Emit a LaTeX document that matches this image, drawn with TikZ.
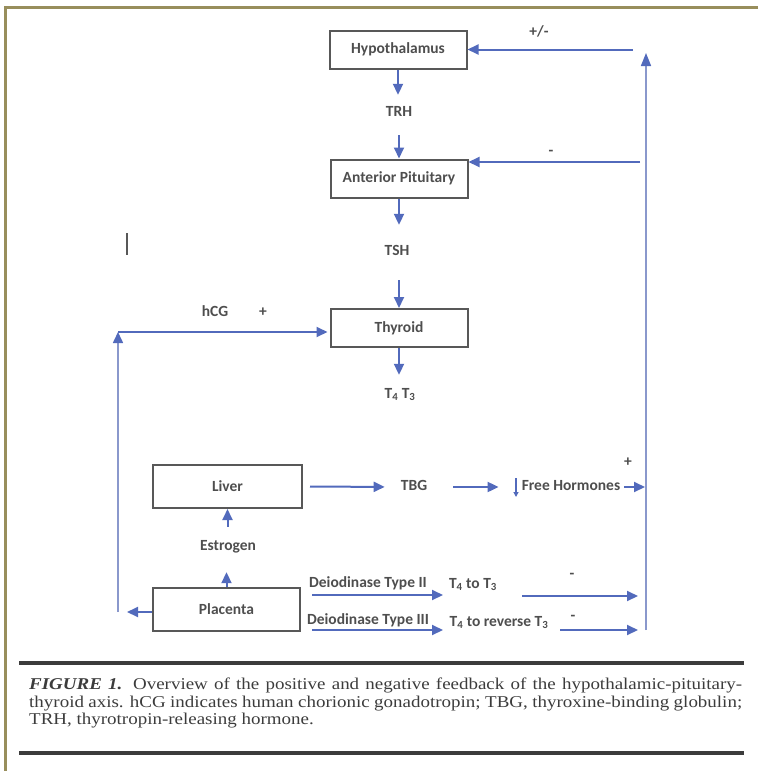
\documentclass[tikz,border=0pt]{standalone}
\usepackage{fontspec}
\setmainfont{Liberation Serif}
\newfontfamily\boxfont{Carlito}
\newfontfamily\capfont[FakeStretch=1.15]{Liberation Serif}
\usetikzlibrary{arrows.meta}

\definecolor{arrowblue}{RGB}{82,106,188}
\definecolor{lineblue}{RGB}{138,152,204}
\definecolor{framecol}{RGB}{152,142,92}
\definecolor{boxgray}{RGB}{88,88,88}
\definecolor{textgray}{RGB}{78,78,78}
\definecolor{rulegray}{RGB}{60,60,60}

\begin{document}
\begin{tikzpicture}[
    x=1pt, y=-1pt,
    organ/.style={
        draw=boxgray,
        line width=2pt,
        minimum width=137pt,
        minimum height=38pt,
        inner sep=0pt,
        font=\boxfont\bfseries\fontsize{15.5}{17}\selectfont,
        text=textgray
    },
    hormone/.style={
        inner sep=0pt,
        text height=10pt,
        text depth=3pt,
        font=\boxfont\bfseries\fontsize{15.5}{17}\selectfont,
        text=textgray
    },
    feed/.style={
        draw=arrowblue,
        line width=2pt,
        -{Triangle[length=11pt,width=10pt]}
    },
    loop line/.style={
        draw=lineblue,
        line width=1.6pt
    },
    rule/.style={
        draw=rulegray,
        line width=3.5pt
    },
    ]
    \useasboundingbox (0,0) rectangle (758,771);

    % frame
    \draw[framecol, line width=3pt] (758,7) -- (5,7) -- (5,771);

    % axis
    \node[organ] (hyp) at (398,49.5) {Hypothalamus};
    \node[organ] (pit) at (399,178.5) {Anterior Pituitary};
    \node[organ] (thy) at (399,328) {Thyroid};
    \node[organ, minimum width=149pt, minimum height=43pt] (liver) at (227.5,486.5) {Liver};
    \node[organ, minimum width=147pt, minimum height=43pt] (plac) at (226.5,609.5) {Placenta};

    \node[hormone] (trh) at (399,113) {TRH};
    \node[hormone] (tsh) at (397,252) {TSH};
    \node[hormone] (t43) at (400,395) {T\textsubscript{4} T\textsubscript{3}};
    \node[hormone] (estr) at (228,547) {Estrogen};
    \node[hormone] (tbg) at (414,487) {TBG};
    \node[hormone] (free) at (571,487) {Free Hormones};
    \node[hormone] (hcg) at (215,313) {hCG};
    \node[hormone] (hcgsign) at (263,313) {+};
    \node[hormone] (hypsign) at (539,33) {+/-};
    \node[hormone] (pitsign) at (551,152) {-};
    \node[hormone] (freesign) at (628,463) {+};
    \node[hormone] (deio2) at (368,584) {Deiodinase Type II};
    \node[hormone] (deio3) at (368,621) {Deiodinase Type III};
    \node[hormone] (t4t3) at (473,585) {T\textsubscript{4} to T\textsubscript{3}};
    \node[hormone] (t4rt3) at (499,623) {T\textsubscript{4} to reverse T\textsubscript{3}};
    \node[hormone] (sign2) at (572,575) {-};
    \node[hormone] (sign3) at (573,617) {-};

    \coordinate (hypin) at (633,49.5);
    \coordinate (pitin) at (640,162);
    \coordinate (rightbot) at (646,630);
    \coordinate (righttop) at (646,53);
    \coordinate (freeout) at (645,487);
    \coordinate (placout) at (127,612);
    \coordinate (loopbot) at (118,612);
    \coordinate (looptop) at (118,332);
    \coordinate (downtop) at (516,478);
    \coordinate (downbot) at (516,497);
    \coordinate (d2start) at (312,595);
    \coordinate (d2end) at (443,595);
    \coordinate (d2out) at (522,596);
    \coordinate (d2in) at (638,596);
    \coordinate (d3start) at (312,630);
    \coordinate (d3end) at (443,630);
    \coordinate (d3out) at (560,630);
    \coordinate (d3in) at (638,630);

    \draw[feed, shorten >=11.5pt] (hyp.south) -- (hyp.south |- trh.north);
    \draw[feed, shorten <=15.5pt] (pit.north |- trh.south) -- (pit.north);
    \draw[feed, shorten >=20.5pt] (pit.south) -- (pit.south |- tsh.north);
    \draw[feed, shorten <=21.5pt] (thy.north |- tsh.south) -- (thy.north);
    \draw[feed, shorten >=13.5pt] (thy.south) -- (thy.south |- t43.north);
    \draw[feed, shorten <=13.5pt] (liver.south |- estr.north) -- (liver.south);
    \draw[feed, shorten >=18.5pt] (plac.north) -- (plac.north |- estr.south);

    % feedback
    \draw[feed] (hypin) -- (hyp.east);
    \draw[feed] (pitin) -- (pitin -| pit.east);
    \draw[loop line, -{Triangle[length=13pt,width=10pt,color=arrowblue]}] (rightbot) -- (righttop);

    % liver row
    \draw[feed, shorten <=7pt, shorten >=16pt] (liver.east) -- (tbg.west);
    \draw[feed, shorten <=26pt, shorten >=23pt] (tbg.east) -- (free.west);
    \draw[arrowblue, line width=1.2pt, -{Triangle[length=5pt,width=5pt]}] (downtop) -- (downbot);
    \draw[feed, shorten <=4pt] (free.east) -- (freeout);

    % placenta
    \draw[feed] (plac.west |- placout) -- (placout);
    \draw[loop line, -{Triangle[length=11pt,width=10pt,color=arrowblue]}] (loopbot) -- (looptop);
    \draw[feed, shorten >=2pt] (looptop) -- (looptop -| thy.west);
    \draw[feed] (d2start) -- (d2end);
    \draw[feed] (d2out) -- (d2in);
    \draw[feed] (d3start) -- (d3end);
    \draw[feed] (d3out) -- (d3in);

    \draw[boxgray, line width=1.5pt] (127,233) -- (127,255);

    % caption
    \draw[rule] (19,663) -- (744,663);
    \draw[rule] (19,753) -- (744,753);
    \node[anchor=north west, text width=713pt, align=justify, inner sep=0pt,
        font=\capfont\fontsize{16.5}{17.5}\selectfont, text=rulegray] (caption) at (29,678)
        {\textbf{\textit{FIGURE 1.}} Overview of the positive and negative feedback of the hypothalamic-pituitary-\linebreak
        thyroid axis. hCG indicates human chorionic gonadotropin; TBG, thyroxine-binding globulin;\linebreak
        TRH, thyrotropin-releasing hormone.};
\end{tikzpicture}
\end{document}
